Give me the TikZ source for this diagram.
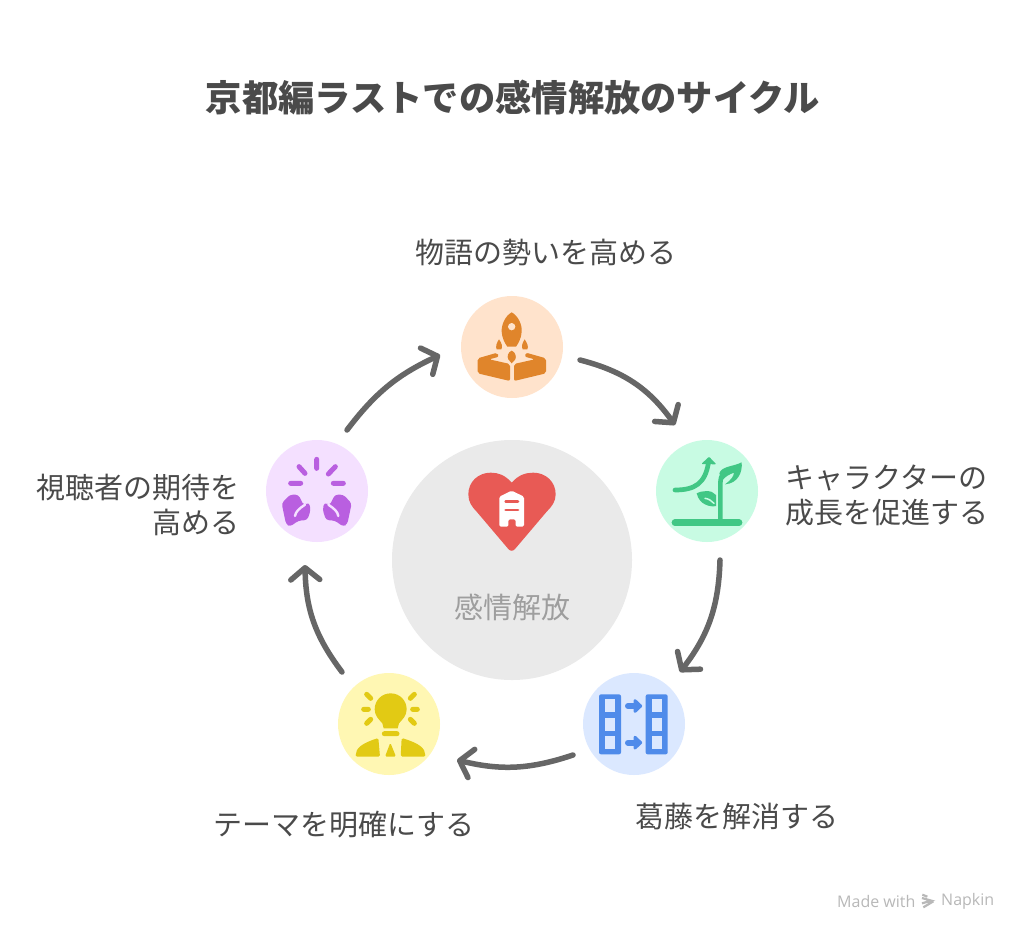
\documentclass[tikz,border=0pt]{standalone}
\usepackage{fontspec}
\setmainfont{Noto Sans CJK JP}
\newfontfamily\latinf{Open Sans}
\usetikzlibrary{arrows.meta,calc}
\definecolor{txt}{HTML}{4A4A4A}
\definecolor{flowc}{HTML}{666666}
\definecolor{orbg}{HTML}{FFE3CC}\definecolor{oric}{HTML}{E0852B}
\definecolor{grbg}{HTML}{C8FBE3}\definecolor{gric}{HTML}{41C785}
\definecolor{blbg}{HTML}{DBE8FF}\definecolor{blic}{HTML}{4F8BEA}
\definecolor{yebg}{HTML}{FFF7B3}\definecolor{yeic}{HTML}{E2CA14}
\definecolor{pubg}{HTML}{F4E0FF}\definecolor{puic}{HTML}{B95FE0}
\definecolor{hubc}{HTML}{EAEAEA}\definecolor{heart}{HTML}{E85A55}
\tikzset{
 stage/.style={circle,minimum size=102pt,inner sep=0pt},
 lab/.style={font=\fontsize{29}{35}\selectfont,text=txt,inner sep=0pt},
 flow/.style={draw=flowc,line width=5.5pt,line cap=round,line join=round,
   -{Straight Barb[length=12pt,width=29pt,line width=5.5pt,round]}},
 zoomed/.style={shift={#1},scale=1/3},
}
\begin{document}
\begin{tikzpicture}[x=1pt,y=-1pt]
\useasboundingbox (0,0) rectangle (1024,937);
\fill[white] (0,0) rectangle (1024,937);
\node[inner sep=0pt,text=txt,font=\fontsize{36.3}{40}\selectfont\bfseries] (title) at (513,98) {京都編ラストでの感情解放のサイクル};
\node[circle,minimum size=240pt,inner sep=0pt,fill=hubc] (hub) at (512,560) {};
\node[font=\fontsize{29}{34}\selectfont,text=black!38,inner sep=0pt] (hublab) at (512,607) {感情解放};
\node[stage,fill=orbg] (n1) at (512,347) {};
\node[stage,fill=grbg] (n2) at (707,491) {};
\node[stage,fill=blbg] (n3) at (634,724) {};
\node[stage,fill=yebg] (n4) at (389,724) {};
\node[stage,fill=pubg] (n5) at (317,491) {};
\node[lab] (l1) at (546,252) {物語の勢いを高める};
\node[lab,align=left,anchor=west] (l2) at (785,495) {キャラクターの\\成長を促進する};
\node[lab] (l3) at (737,816) {葛藤を解消する};
\node[lab] (l4) at (344,825) {テーマを明確にする};
\node[lab,align=right,anchor=east] (l5) at (240,505) {視聴者の期待を\\高める};
\draw[flow] ($(n1)+(68,13)$) to[bend left=20] ($(n2)+(-32,-66)$);
\draw[flow] ($(n2)+(13,69)$) to[bend left=18] ($(n3)+(46,-52)$);
\draw[flow] ($(n3)+(-61,31)$) to[bend left=16] ($(n4)+(68,36)$);
\draw[flow] ($(n4)+(-47,-52)$) to[bend left=18] ($(n5)+(-12,74)$);
\draw[flow] ($(n5)+(30,-61)$) to[bend left=14] ($(n1)+(-72,8)$);
% rocket
\begin{scope}[zoomed={(440,280)},fill=oric]
\fill (215,97) .. controls (235,108) and (247,135) .. (245,155) .. controls (244,175) and (235,190) .. (228,200) -- (202,200) .. controls (195,190) and (186,175) .. (185,155) .. controls (184,135) and (195,108) .. (215,97) -- cycle;
\fill[orbg] (215,140) circle (11);
\fill (177,178) .. controls (186,190) and (188,200) .. (184,208) -- (170,208) .. controls (166,200) and (170,188) .. (177,178) -- cycle;
\fill (254,178) .. controls (262,190) and (266,200) .. (262,208) -- (248,208) .. controls (244,200) and (246,190) .. (254,178) -- cycle;
\fill (215,212) .. controls (226,216) and (230,230) .. (226,238) -- (215,250) -- (205,238) .. controls (200,230) and (204,216) .. (215,212) -- cycle;
\fill[rounded corners=2pt] (113,235) -- (172,218) -- (177,230) -- (148,238) -- (210,252) -- (210,303) -- (113,280) -- cycle;
\fill[rounded corners=2pt] (318,235) -- (258,218) -- (254,230) -- (284,238) -- (222,252) -- (222,303) -- (318,280) -- cycle;
\end{scope}
% plant
\begin{scope}[zoomed={(640,430)}]
\draw[gric,line width=4.7pt,line cap=round] (105,180) .. controls (165,180) and (195,160) .. (205,100);
\fill[gric,rounded corners=1pt] (184,102) -- (207,80) -- (229,103) -- cycle;
\draw[gric,line width=6.8pt,line cap=round] (105,278) -- (297,278);
\draw[gric,line width=4.6pt] (241,278) -- (241,165) .. controls (241,150) and (243,140) .. (248,130);
\fill[gric] (238,130) .. controls (245,108) and (280,110) .. (305,97) .. controls (308,125) and (295,160) .. (255,163) .. controls (275,148) and (280,140) .. (282,128) .. controls (270,132) and (255,140) .. (248,150) -- cycle;
\fill[gric] (170,190) .. controls (185,182) and (215,178) .. (228,195) -- (228,228) .. controls (212,232) and (178,225) .. (170,190) -- cycle;
\draw[grbg,line width=1.5pt,line cap=round] (195,205) .. controls (205,206) and (215,212) .. (222,220);
\end{scope}
% table and arrows
\begin{scope}[zoomed={(570,660)}]
\foreach \x in {87,227}{
 \fill[blic,rounded corners=2pt] (\x,103) rectangle ++(66,180);
 \foreach \y/\h in {118/37,173/39,228/38}
  \fill[blbg] (\x+18,\y) rectangle ++(30,\h);
}
\foreach \y in {138,248}{
 \draw[blic,line width=6pt,line cap=round] (174,\y) -- (198,\y);
 \filldraw[blic,line width=3pt,line join=round] (195,\y-16) -- (212,\y) -- (195,\y+16) -- cycle;
}
\end{scope}
% bulb and person
\begin{scope}[zoomed={(325,660)}]
\fill[yeic] (197,100) .. controls (225,100) and (245,122) .. (245,148) .. controls (245,168) and (232,178) .. (222,190) -- (218,205) -- (176,205) -- (172,190) .. controls (162,178) and (149,168) .. (149,148) .. controls (149,122) and (169,100) .. (197,100) -- cycle;
\draw[yeic,line width=5pt,line cap=round]
 (178,221) -- (216,221)
 (125,103) -- (137,115) (116,148) -- (130,148) (125,190) -- (137,178)
 (268,103) -- (256,115) (277,148) -- (263,148) (268,190) -- (256,178);
\fill[yeic,rounded corners=1.5pt] (92,290) .. controls (92,265) and (110,250) .. (160,234) -- (165,290) -- cycle;
\fill[yeic,rounded corners=1.5pt] (301,290) .. controls (301,265) and (283,250) .. (230,234) -- (227,290) -- cycle;
\fill[yeic,rounded corners=1.5pt] (196,248) -- (180,290) -- (213,290) -- cycle;
\end{scope}
% hands
\begin{scope}[zoomed={(255,430)}]
\draw[puic,line width=5pt,line cap=round]
 (185,88) -- (185,115) (132,110) -- (150,130) (241,110) -- (220,132)
 (107,160) -- (137,160) (235,160) -- (265,160);
\foreach \m in {0,1}{
 \begin{scope}[xshift=\m*370pt,xscale=1-2*\m]
 \fill[puic,rounded corners=3pt] (80,220) -- (105,194) -- (130,194) -- (146,226) -- (162,217) -- (167,240) -- (157,270) -- (130,272) -- (105,290) -- (93,282) -- cycle;
 \draw[pubg,line width=2.4pt,line cap=round] (120,258) .. controls (122,245) and (132,236) .. (150,224);
 \end{scope}
}
\end{scope}
% heart
\begin{scope}[zoomed={(450,460)}]
\fill[heart] (185,68) .. controls (165,45) and (145,38) .. (122,38) .. controls (85,38) and (55,65) .. (55,103) .. controls (55,125) and (65,140) .. (80,155) -- (175,267) .. controls (181,274) and (189,274) .. (195,267) -- (290,155) .. controls (305,140) and (317,125) .. (317,103) .. controls (317,65) and (287,38) .. (250,38) .. controls (227,38) and (205,45) .. (185,68) -- cycle;
\fill[white,rounded corners=1.5pt] (148,110) -- (185,92) -- (222,110) -- (222,200) -- (197,200) -- (197,178) -- (175,178) -- (175,200) -- (148,200) -- cycle;
\draw[heart,line width=2.8pt,line cap=round] (167,124) -- (204,124) (167,150) -- (204,150);
\end{scope}
% footer
\node[font=\latinf\fontsize{16}{18}\selectfont,text=black!28,inner sep=0pt,anchor=west] (made) at (837,901) {Made with};
\node[font=\latinf\fontsize{16}{18}\selectfont,text=black!28,inner sep=0pt,anchor=west] (napkin) at (941,901) {Napkin};
\begin{scope}[zoomed={(820,880)}]
\draw[black!28,line width=2.2pt] (307,44) -- (322,50) (306,54) -- (334,62) -- (306,70) (340,64) -- (310,82);
\end{scope}
\end{tikzpicture}
\end{document}
